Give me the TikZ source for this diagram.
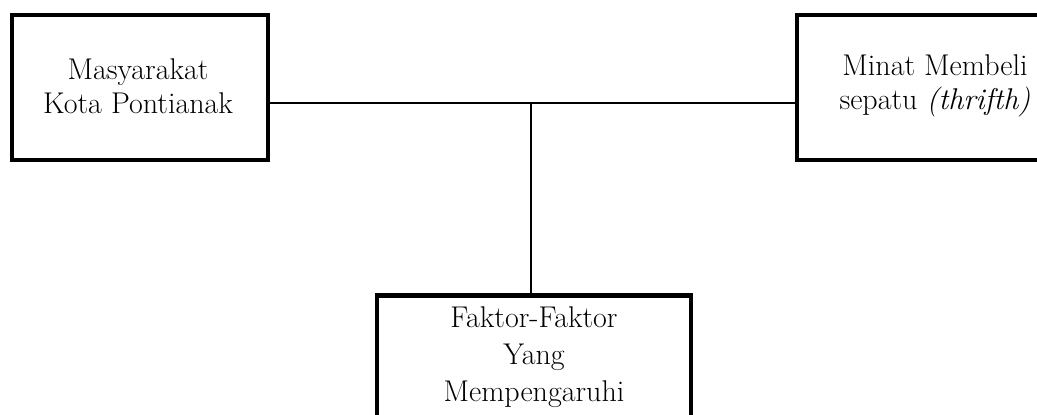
\documentclass[tikz,border=0pt]{standalone}
\usepackage{fontspec}
\begin{document}
\begin{tikzpicture}[x=1pt,y=-1pt,
  box/.style={draw=black,line width=4.5pt,rectangle,fill=white,inner sep=0pt},
  lbl/.style={align=center,font=\fontsize{30}{34}\selectfont,inner sep=0pt},
  link/.style={draw=black,line width=2pt}]
  \useasboundingbox (0,0) rectangle (1037,415);
  \clip (0,0) rectangle (1037,415);
  \fill[white] (0,0) rectangle (1037,415);
  % connectors
  \coordinate (j) at (531,103);
  \node[box,minimum width=256pt,minimum height=145pt] (mas) at (140,87.5) {};
  \node[box,minimum width=276pt,minimum height=145pt] (min) at (935,87.5) {};
  \node[box,minimum width=314pt,minimum height=170pt,anchor=north] (fak) at (534,293) {};
  \draw[link] (mas.east |- j) -- (min.west |- j);
  \draw[link] (j) -- (j |- fak.north);
  % box texts
  \node[lbl] (mast) at (138,86) {Masyarakat\\Kota Pontianak};
  \node[lbl] (mint) at (935,86) {Minat Membeli\\sepatu \textit{(thrifth)}};
  \node[lbl,font=\fontsize{30}{37}\selectfont,anchor=north] (fakt) at (534,306) {Faktor-Faktor\\Yang\\Mempengaruhi};
\end{tikzpicture}
\end{document}
